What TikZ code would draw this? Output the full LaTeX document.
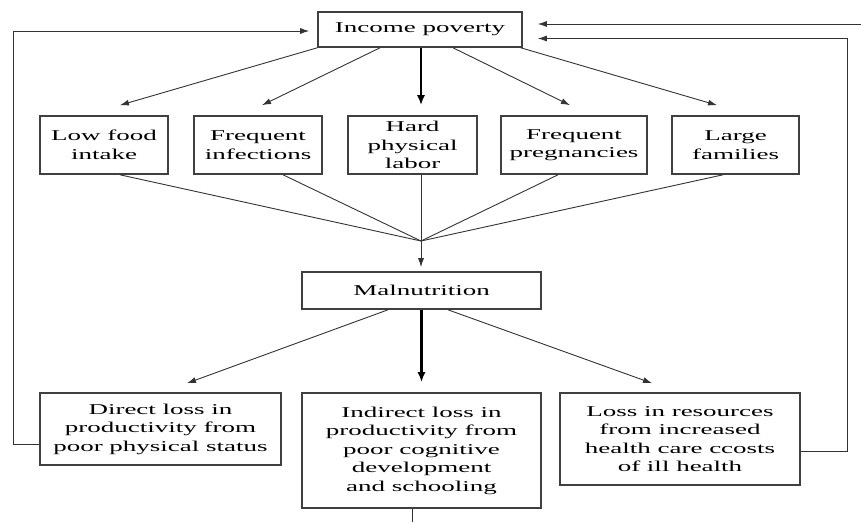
\documentclass[tikz,border=0pt]{standalone}
\usepackage{fontspec}
\setmainfont{Liberation Serif}[FakeStretch=1.8]
\usetikzlibrary{arrows.meta}
\begin{document}
\begin{tikzpicture}[x=1pt,y=-1pt,
    box/.style={draw=black!75, line width=1.6pt, align=center, inner sep=0pt,
      font=\fontsize{15}{18.5}\selectfont, text=black},
    arr/.style={-{Latex[length=9pt,width=6pt]}, draw=black!80, line width=0.9pt},
    bigarr/.style={-{Latex[length=10pt,width=8pt]}, draw=black, line width=2.6pt},
    ln/.style={draw=black!80, line width=0.9pt}]
  \useasboundingbox (0,0) rectangle (861,522);
  % boxes
  \node[box, minimum width=204pt, minimum height=35pt] (inc) at (420,29.5) {Income poverty};
  \node[box, minimum width=128pt, minimum height=58pt] (food) at (104,145) {Low food\\intake};
  \node[box, minimum width=128pt, minimum height=58pt] (infect) at (258,145) {Frequent\\infections};
  \node[box, minimum width=129pt, minimum height=58pt] (labor) at (412.5,145) {Hard\\physical\\labor};
  \node[box, minimum width=146pt, minimum height=58pt] (preg) at (574,145) {Frequent\\pregnancies};
  \node[box, minimum width=127pt, minimum height=58pt] (large) at (735.5,145) {Large\\families};
  \node[box, minimum width=239pt, minimum height=37pt] (mal) at (421.5,290.5) {Malnutrition};
  \node[box, minimum width=241pt, minimum height=72pt] (direct) at (160.5,429) {Direct loss in\\productivity from\\poor physical status};
  \node[box, minimum width=239pt, minimum height=115pt] (indirect) at (421.5,450.5) {Indirect loss in\\productivity from\\poor cognitive\\development\\and schooling};
  \node[box, minimum width=240pt, minimum height=92pt] (loss) at (680,439) {Loss in resources\\from increased\\health care ccosts\\of ill health};
  \coordinate (conv) at (421,241);
  \coordinate (edge) at (861,24);
  \coordinate (out) at (412,522);
  % income poverty -> causes
  \draw[arr] (inc.south west) -- ([shift={(16,-10)}]food.north);
  \draw[arr] ([xshift=-40pt]inc.south) -- ([shift={(4,-10)}]infect.north);
  \draw[bigarr] ([xshift=1pt]inc.south) -- ([shift={(8.5,-10)}]labor.north);
  \draw[arr] ([xshift=33pt]inc.south) -- ([shift={(-4,-10)}]preg.north);
  \draw[arr] ([xshift=-2pt]inc.south east) -- ([shift={(-18.5,-10)}]large.north);
  % causes -> malnutrition
  \draw[ln] ([xshift=16pt]food.south) -- (conv);
  \draw[ln] ([xshift=25pt]infect.south) -- (conv);
  \draw[ln] ([xshift=8.5pt]labor.south) -- (conv);
  \draw[ln] ([xshift=-16pt]preg.south) -- (conv);
  \draw[ln] ([xshift=-12.5pt]large.south) -- (conv);
  \draw[arr] (conv) -- ([yshift=4pt]mal.north -| conv);
  % malnutrition -> losses
  \draw[arr] ([xshift=-33.5pt]mal.south) -- ([shift={(26.5,-9)}]direct.north);
  \draw[bigarr] (mal.south) -- ([yshift=10pt]indirect.north);
  \draw[arr] ([xshift=26.5pt]mal.south) -- ([shift={(-28,-9)}]loss.north);
  % feedback loops
  \draw[arr, shorten >=8pt] ([yshift=-15pt]direct.west) -- ++(-26,0) |- ([yshift=-1.5pt]inc.west);
  \draw[arr, shorten >=15pt] ([yshift=-12pt]loss.east) -- ++(47,0) |- ([yshift=-9pt]inc.east);
  \draw[arr, shorten >=15pt] (edge) -- (edge -| inc.east);
  \draw[ln] ([xshift=-9.5pt]indirect.south) -- (out);
\end{tikzpicture}
\end{document}
